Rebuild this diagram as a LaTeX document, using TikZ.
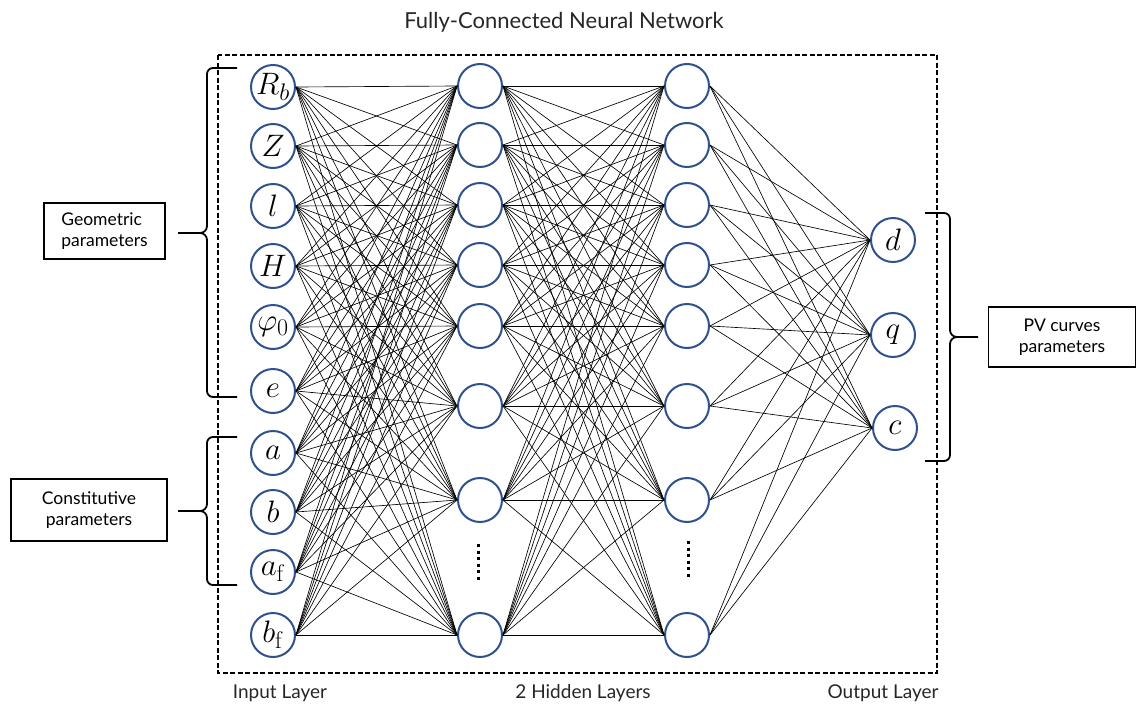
\RequirePackage{fix-cm}
\documentclass[tikz,border=0pt]{standalone}
\usepackage[no-math]{fontspec}
\setmainfont{Lato}
\DeclareMathSizes{31}{31}{24}{18}
\definecolor{nblue}{RGB}{47,82,143}
\tikzset{
  neuron/.style={circle, draw=nblue, line width=2pt, minimum size=44pt, inner sep=0pt, fill=white,
                 font=\fontsize{31}{33}\selectfont},
  conn/.style={line width=0.65pt, black},
  labelbox/.style={draw, line width=1.6pt, inner sep=0pt, font=\fontsize{17.5}{21.5}\selectfont},
  brace/.style={line width=1.8pt},
  caption/.style={font=\fontsize{19}{21}\selectfont, text=black!85},
  vdots/.style={line width=3pt, dash pattern=on 3pt off 3.5pt},
}
\begin{document}
\begin{tikzpicture}[x=1pt,y=-1pt]
\useasboundingbox (0,0) rectangle (1137,704);

% frame around the network
\draw[line width=1.6pt, dash pattern=on 5pt off 2.5pt] (218,55) rectangle (937,673);

% input layer
\foreach \n/\y/\t in {1/87/R_b, 2/146/Z, 3/206/l, 4/266/H, 5/327/\varphi_0,
                      6/391/e, 7/453/a, 8/512/b, 9/572/a_{\mathrm{f}}, 10/635/b_{\mathrm{f}}}
  \node[neuron] (i\n) at (273,\y) {$\t$};

% hidden layers
\foreach \n/\y in {1/86, 2/145, 3/205, 4/265, 5/326, 6/406, 7/500, 8/635} {
  \node[neuron] (h\n) at (480,\y) {};
  \node[neuron] (g\n) at (687,\y) {};
}

% output layer
\node[neuron] (o1) at (893,240) {$d$};
\node[neuron] (o2) at (893,335) {$q$};
\node[neuron] (o3) at (895,428) {$c$};

% full connections
\foreach \a in {1,...,10}
  \foreach \b in {1,...,8}
    \draw[conn] (i\a.east) -- (h\b.west);
\foreach \a in {1,...,8}
  \foreach \b in {1,...,8}
    \draw[conn] (h\a.east) -- (g\b.west);
\foreach \a in {1,...,8}
  \foreach \b in {1,2,3}
    \draw[conn] (g\a.east) -- (o\b.west);

% ellipsis in the hidden layers
\draw[vdots] (478,544) -- (478,580);
\draw[vdots] (688,541) -- (688,577);

% braces
\draw[brace] (237,68) -- (213,68) to[out=180,in=90] (207,74) -- (207,226)
  to[out=-90,in=0] (200,233) -- (178,233);
\draw[brace] (200,233) to[out=0,in=90] (207,240) -- (207,391)
  to[out=-90,in=180] (213,397) -- (237,397);
\draw[brace] (237,437) -- (213,437) to[out=180,in=90] (207,443) -- (207,504)
  to[out=-90,in=0] (200,511) -- (178,511);
\draw[brace] (200,511) to[out=0,in=90] (207,518) -- (207,579)
  to[out=-90,in=180] (213,585) -- (237,585);
\draw[brace] (925,213) -- (944,213) to[out=0,in=90] (950,219) -- (950,330)
  to[out=-90,in=180] (957,337) -- (978,337);
\draw[brace] (957,337) to[out=180,in=90] (950,344) -- (950,455)
  to[out=-90,in=0] (944,461) -- (925,461);

% side labels
\node[labelbox, minimum width=121pt, minimum height=56pt, align=left] (geo) at (104.5,231) {Geometric\\parameters};
\node[labelbox, minimum width=156pt, minimum height=62pt, align=center] (cons) at (89,510) {Constitutive\\parameters};
\node[labelbox, minimum width=147pt, minimum height=60pt, align=center] (pv) at (1062,337) {PV curves\\parameters};

% captions
\node[caption, font=\fontsize{22}{24}\selectfont] (title) at (564,22) {Fully-Connected Neural Network};
\node[caption] (inl) at (280,693) {Input Layer};
\node[caption] (hidl) at (583,693) {2 Hidden Layers};
\node[caption] (outl) at (883,693) {Output Layer};
\end{tikzpicture}
\end{document}
